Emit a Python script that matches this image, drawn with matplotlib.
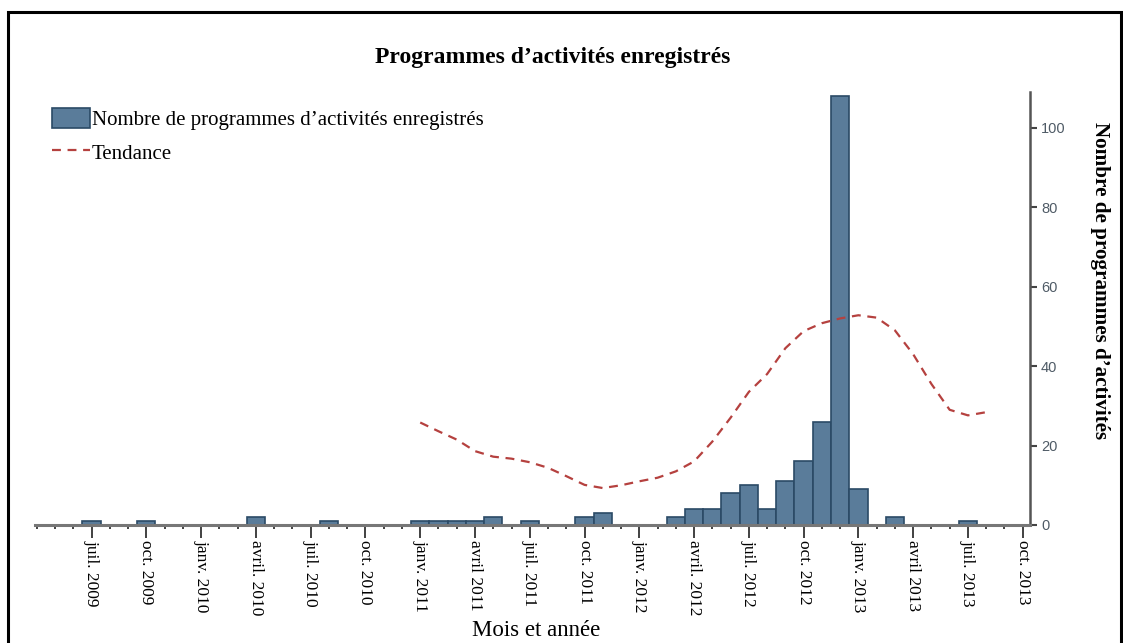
import matplotlib
matplotlib.use("Agg")
import matplotlib.pyplot as plt
from matplotlib.patches import Patch, Rectangle
from matplotlib.lines import Line2D
import numpy as np
import pandas as pd

# monthly counts (months without a bar are zero)
bar_months = ["2009-07", "2009-10", "2010-04", "2010-08", "2011-01", "2011-02",
              "2011-03", "2011-04", "2011-05", "2011-07", "2011-10", "2011-11",
              "2012-03", "2012-04", "2012-05", "2012-06", "2012-07", "2012-08",
              "2012-09", "2012-10", "2012-11", "2012-12", "2013-01", "2013-03",
              "2013-07"]
bar_counts = [1, 1, 2, 1, 1, 1, 1, 1, 2, 1, 2, 3,
              2, 4, 4, 8, 10, 4, 11, 16, 26, 108, 9, 2, 1]

# trend, one value per month from janv. 2011 to août 2013
trend_start = "2011-01"
trend_values = [25.8, 23.6, 21.5, 18.6, 17.2, 16.7, 15.8, 14.4, 12.3, 10.1, 9.3, 10.0,
                11.0, 11.9, 13.5, 16.0, 21.0, 27.0, 33.5, 38.0, 44.5, 48.8, 50.8, 52.0,
                52.8, 52.2, 49.0, 43.0, 35.5, 29.0, 27.6, 28.4]

tick_labels = ["juil. 2009", "oct. 2009", "janv. 2010", "avril. 2010", "juil. 2010",
               "oct. 2010", "janv. 2011", "avril 2011", "juil. 2011", "oct. 2011",
               "janv. 2012", "avril. 2012", "juil. 2012", "oct. 2012", "janv. 2013",
               "avril 2013", "juil. 2013", "oct. 2013"]
y_ticks = [0, 20, 40, 60, 80, 100]

ref = pd.Period("2009-07", freq="M")
def month_pos(s):
    return (pd.Period(s, freq="M") - ref).n

x_bars = np.array([month_pos(m) for m in bar_months])
x_trend = month_pos(trend_start) + np.arange(len(trend_values))

plt.rcParams['font.family'] = ['Liberation Serif', 'DejaVu Serif']

W, H = 1123, 643
fig = plt.figure(figsize=(W / 100, H / 100), dpi=100)
ax = fig.add_axes([35 / W, 1 - 525 / H, 995 / W, (525 - 92) / H])

bar_col = "#5a7c9a"
edge_col = "#2b4a66"
trend_col = "#b5413f"

ax.bar(x_bars, bar_counts, width=1.0, color=bar_col, edgecolor=edge_col, linewidth=1.2, zorder=2)
ax.plot(x_trend, trend_values, color=trend_col, lw=1.6, ls=(0, (4, 3)), zorder=3)

ax.set_xlim(-3.1, 51.4)
ax.set_ylim(0, 109)

ax.set_xticks(np.arange(len(tick_labels)) * 3)
ax.set_xticklabels(tick_labels, rotation=270, fontsize=12.5, va="top", ha="center")
ax.set_xticks(np.arange(-3, 52), minor=True)
ax.tick_params(axis="x", which="major", length=9, width=1.3, color="#333333", pad=2)
ax.tick_params(axis="x", which="minor", length=3, width=1.3, color="#333333")

ax.yaxis.tick_right()
ax.set_yticks(y_ticks)
ax.set_yticklabels([str(v) for v in y_ticks], fontsize=10.5, color="#4f5b66", family="Liberation Sans")
ax.tick_params(axis="y", length=5, width=1.5, color="#444444", pad=3)

for s in ["top", "left"]:
    ax.spines[s].set_visible(False)
ax.spines["right"].set_color("#555555")
ax.spines["right"].set_linewidth(1.8)
ax.spines["bottom"].set_color("#777777")
ax.spines["bottom"].set_linewidth(2.2)

fig.text(553 / W, 1 - 57 / H, "Programmes d\u2019activités enregistrés", ha="center", va="center",
         fontsize=17, fontweight="bold")
fig.text(1100 / W, 1 - 281 / H, "Nombre de programmes d\u2019activités", rotation=270,
         ha="center", va="center", fontsize=15.2, fontweight="bold")
fig.text(536 / W, 1 - 631 / H, "Mois et année", ha="center", va="center", fontsize=16.5)

handles = [Patch(facecolor=bar_col, edgecolor=edge_col, lw=1.2),
           Line2D([0], [0], color=trend_col, lw=1.6, ls=(0, (4, 3)))]
fig.legend(handles, ["Nombre de programmes d\u2019activités enregistrés", "Tendance"],
           loc="upper left", bbox_to_anchor=(48 / W, 1 - 104 / H), frameon=False,
           fontsize=15, handlelength=1.8, handleheight=1.1, handletextpad=0.1,
           labelspacing=0.55, borderaxespad=0, borderpad=0.2)

fig.add_artist(Rectangle((8 / W, -0.1), (1121 - 8) / W, 1.1 - 12 / H, transform=fig.transFigure,
                         fill=False, edgecolor="black", lw=2.2))

fig.savefig("out.png", dpi=100)
